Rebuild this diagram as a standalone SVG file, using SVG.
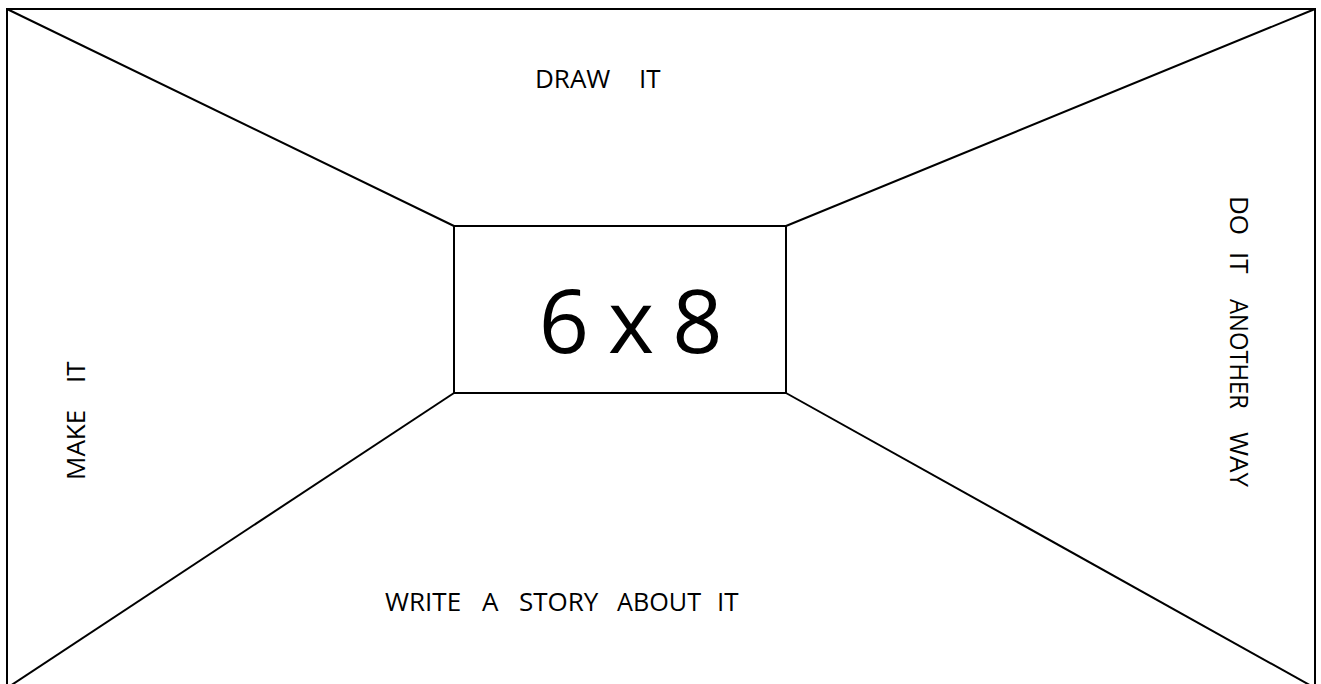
<svg xmlns="http://www.w3.org/2000/svg" width="1321" height="684" viewBox="0 0 1321 684">
<style>
.ln{stroke:#000;stroke-width:2;fill:none}
.t{font-family:"Open Sans","Liberation Sans",sans-serif;font-size:26px;fill:#000}
.big{font-family:"Open Sans","Liberation Sans",sans-serif;font-size:88px;fill:#000;text-anchor:middle}
</style>
<rect width="1321" height="684" fill="#fff"/>
<g id="connectors">
<rect class="ln" x="7" y="9" width="1308" height="679"/>
<line class="ln" x1="7" y1="9" x2="454" y2="226"/>
<line class="ln" x1="1315" y1="9" x2="786" y2="226"/>
<line class="ln" x1="454" y1="393" x2="7" y2="688"/>
<line class="ln" x1="786" y1="393" x2="1315" y2="688"/>
</g>
<g id="center">
<rect class="ln" x="454" y="226" width="332" height="167"/>
<text class="big" y="353"><tspan x="564">6</tspan><tspan x="631">x</tspan><tspan x="697.5">8</tspan></text>
</g>
<g id="top">
<text class="t" y="88"><tspan x="535">DRAW</tspan><tspan x="639">IT</tspan></text>
</g>
<g id="bottom">
<text class="t" y="611"><tspan x="385">WRITE</tspan><tspan x="482">A</tspan><tspan x="519">STORY</tspan><tspan x="617" textLength="84" lengthAdjust="spacingAndGlyphs">ABOUT</tspan><tspan x="717">IT</tspan></text>
</g>
<g id="left">
<text class="t" transform="translate(85,480) rotate(-90)" y="0"><tspan x="0">MAKE</tspan><tspan x="97">IT</tspan></text>
</g>
<g id="right">
<text class="t" transform="translate(1230,196) rotate(90)" y="0"><tspan x="0">DO</tspan><tspan x="56">IT</tspan><tspan x="103" textLength="110" lengthAdjust="spacingAndGlyphs">ANOTHER</tspan><tspan x="236">WAY</tspan></text>
</g>
</svg>
